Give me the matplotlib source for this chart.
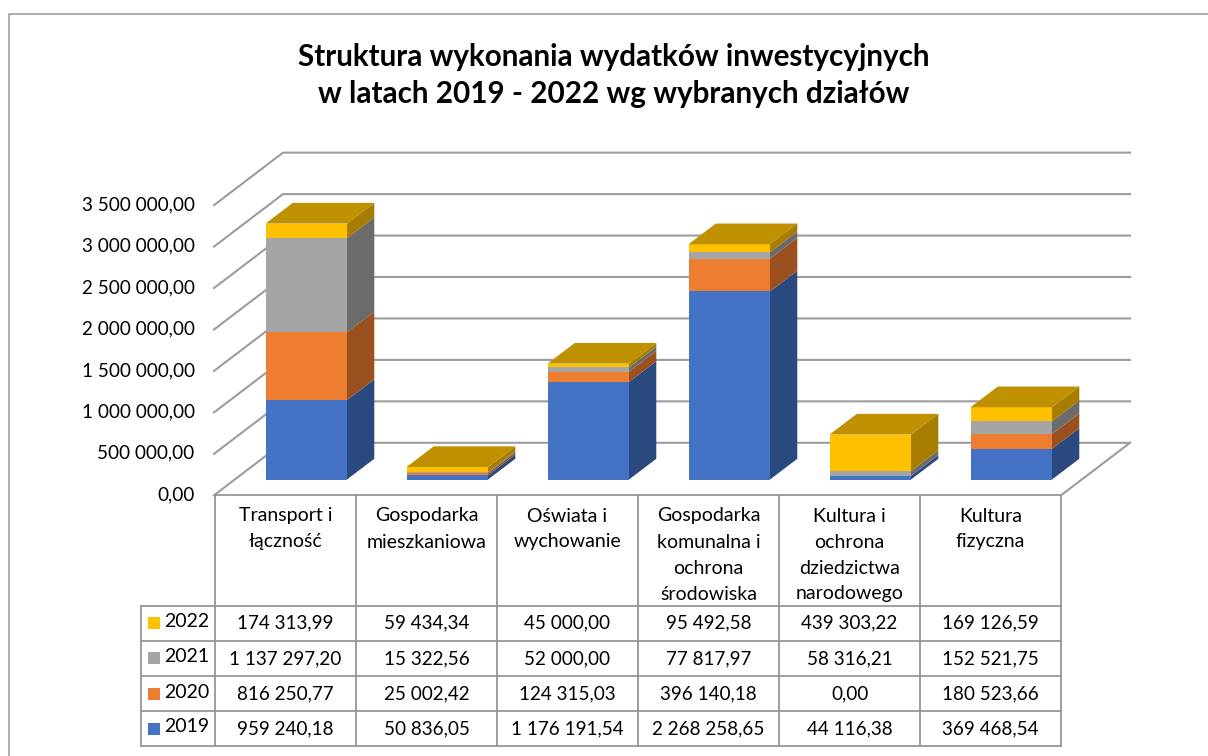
import matplotlib
matplotlib.use("Agg")
import matplotlib.pyplot as plt
from matplotlib.patches import Polygon, Rectangle

plt.rcParams['font.family'] = ['Lato', 'DejaVu Sans']

categories = ["Transport i\nłączność", "Gospodarka\nmieszkaniowa", "Oświata i\nwychowanie",
              "Gospodarka\nkomunalna i\nochrona\nśrodowiska",
              "Kultura i\nochrona\ndziedzictwa\nnarodowego", "Kultura\nfizyczna"]
years = ["2019", "2020", "2021", "2022"]
v2019 = [959240.18, 50836.05, 1176191.54, 2268258.65, 44116.38, 369468.54]
v2020 = [816250.77, 25002.42, 124315.03, 396140.18, 0.00, 180523.66]
v2021 = [1137297.20, 15322.56, 52000.00, 77817.97, 58316.21, 152521.75]
v2022 = [174313.99, 59434.34, 45000.00, 95492.58, 439303.22, 169126.59]
series = [v2019, v2020, v2021, v2022]
axis_ticks = [0, 500000, 1000000, 1500000, 2000000, 2500000, 3000000, 3500000]

front_colors = ["#4472C4", "#ED7D31", "#A5A5A5", "#FFC000"]
side_colors = ["#2A4A7F", "#9A501F", "#6B6B6B", "#A67D00"]
top_color = "#BF9000"
line_c = "#9C9C9C"
table_c = "#969696"

W, H = 1208, 756
fig = plt.figure(figsize=(W / 100, H / 100), dpi=100)
ax = fig.add_axes([0, 0, 1, 1])
ax.set_xlim(0, W)
ax.set_ylim(H, 0)
ax.axis("off")

# plot geometry
X0, X1 = 215.0, 1061.0
Y0 = 495.3
BACK_DX, BACK_DY = 68.0, 52.5
PX_PER_UNIT = 41.45 / 500000
BAR_Y0 = 479.5
BAR_LEFT, BAR_W = 50.5, 81.5
DEPTH_DX, DEPTH_DY = 27.3, 20.7
COL_W = (X1 - X0) / len(categories)

def fmt(v):
    whole, dec = f"{v:.2f}".split(".")
    parts = []
    while len(whole) > 3:
        parts.insert(0, whole[-3:])
        whole = whole[:-3]
    parts.insert(0, whole)
    return " ".join(parts) + "," + dec

def val_y(v, base):
    return base - v * PX_PER_UNIT

# chart frame
ax.plot([9, 9, W], [H, 13.7, 13.7], color="#A0A0A0", lw=1.2, solid_capstyle="butt", zorder=1)

# title
ax.text(613.5, 57, "Struktura wykonania wydatków inwestycyjnych", ha="center", va="center",
        fontsize=21.3, fontweight="bold", color="black")
ax.text(613.5, 94, "w latach 2019 - 2022 wg wybranych działów", ha="center", va="center",
        fontsize=21.3, fontweight="bold", color="black")

# gridlines on wall and side wall
for t in axis_ticks:
    yf = val_y(t, Y0)
    ax.plot([X0 - 1, X0 + BACK_DX, X1 + BACK_DX + 1], [yf, yf - BACK_DY, yf - BACK_DY],
            color=line_c, lw=1.5, solid_joinstyle="miter", zorder=2)
    ax.text(194.5, yf - 0.5, fmt(t), ha="right", va="center", fontsize=13.55, color="black")

# floor right edge
ax.plot([X1, X1 + BACK_DX + 1], [Y0, Y0 - BACK_DY], color=line_c, lw=1.5, zorder=2)

# bars
for i in range(len(categories)):
    left = X0 + i * COL_W + BAR_LEFT
    right = left + BAR_W
    base = 0.0
    top_y = BAR_Y0
    for s, vals in enumerate(series):
        v = vals[i]
        y_b = val_y(base, BAR_Y0)
        y_t = val_y(base + v, BAR_Y0)
        ax.add_patch(Polygon([(right, y_b), (right + DEPTH_DX, y_b - DEPTH_DY),
                              (right + DEPTH_DX, y_t - DEPTH_DY), (right, y_t)],
                             closed=True, fc=side_colors[s], ec="none", zorder=3))
        ax.add_patch(Rectangle((left, y_t), BAR_W, y_b - y_t, fc=front_colors[s], ec="none", zorder=4))
        base += v
        top_y = y_t
    ax.add_patch(Polygon([(left, top_y), (left + DEPTH_DX, top_y - DEPTH_DY),
                          (right + DEPTH_DX, top_y - DEPTH_DY), (right, top_y)],
                         closed=True, fc=top_color, ec="none", zorder=5))

# data table
row_edges = [605.8, 640.8, 676.0, 711.0, 746.0]
TL = 140.5
tkw = dict(color=table_c, lw=1.3, zorder=6, solid_capstyle="projecting")
ax.plot([X0, X1], [Y0, Y0], **tkw)
for i in range(len(categories) + 1):
    xc = X0 + i * COL_W
    ax.plot([xc, xc], [Y0, row_edges[-1]], **tkw)
for y in row_edges:
    ax.plot([TL, X1], [y, y], **tkw)
ax.plot([TL, TL], [row_edges[0], row_edges[-1]], **tkw)

for i, c in enumerate(categories):
    xc = X0 + (i + 0.5) * COL_W
    for j, ln in enumerate(c.split("\n")):
        ax.text(xc, 516 + j * 26, ln, ha="center", va="center", fontsize=14.0, color="black")

for r, s in enumerate([3, 2, 1, 0]):
    yc = (row_edges[r] + row_edges[r + 1]) / 2
    ax.add_patch(Rectangle((148, yc - 6), 12, 12, fc=front_colors[s], ec="none", zorder=7))
    ax.text(164.5, yc - 1.5, years[s], ha="left", va="center", fontsize=14.0, color="black")
    for i in range(len(categories)):
        ax.text(X0 + (i + 0.5) * COL_W, yc, fmt(series[s][i]), ha="center", va="center",
                fontsize=13.55, color="black")

fig.savefig("out.png", dpi=100, facecolor="white")
